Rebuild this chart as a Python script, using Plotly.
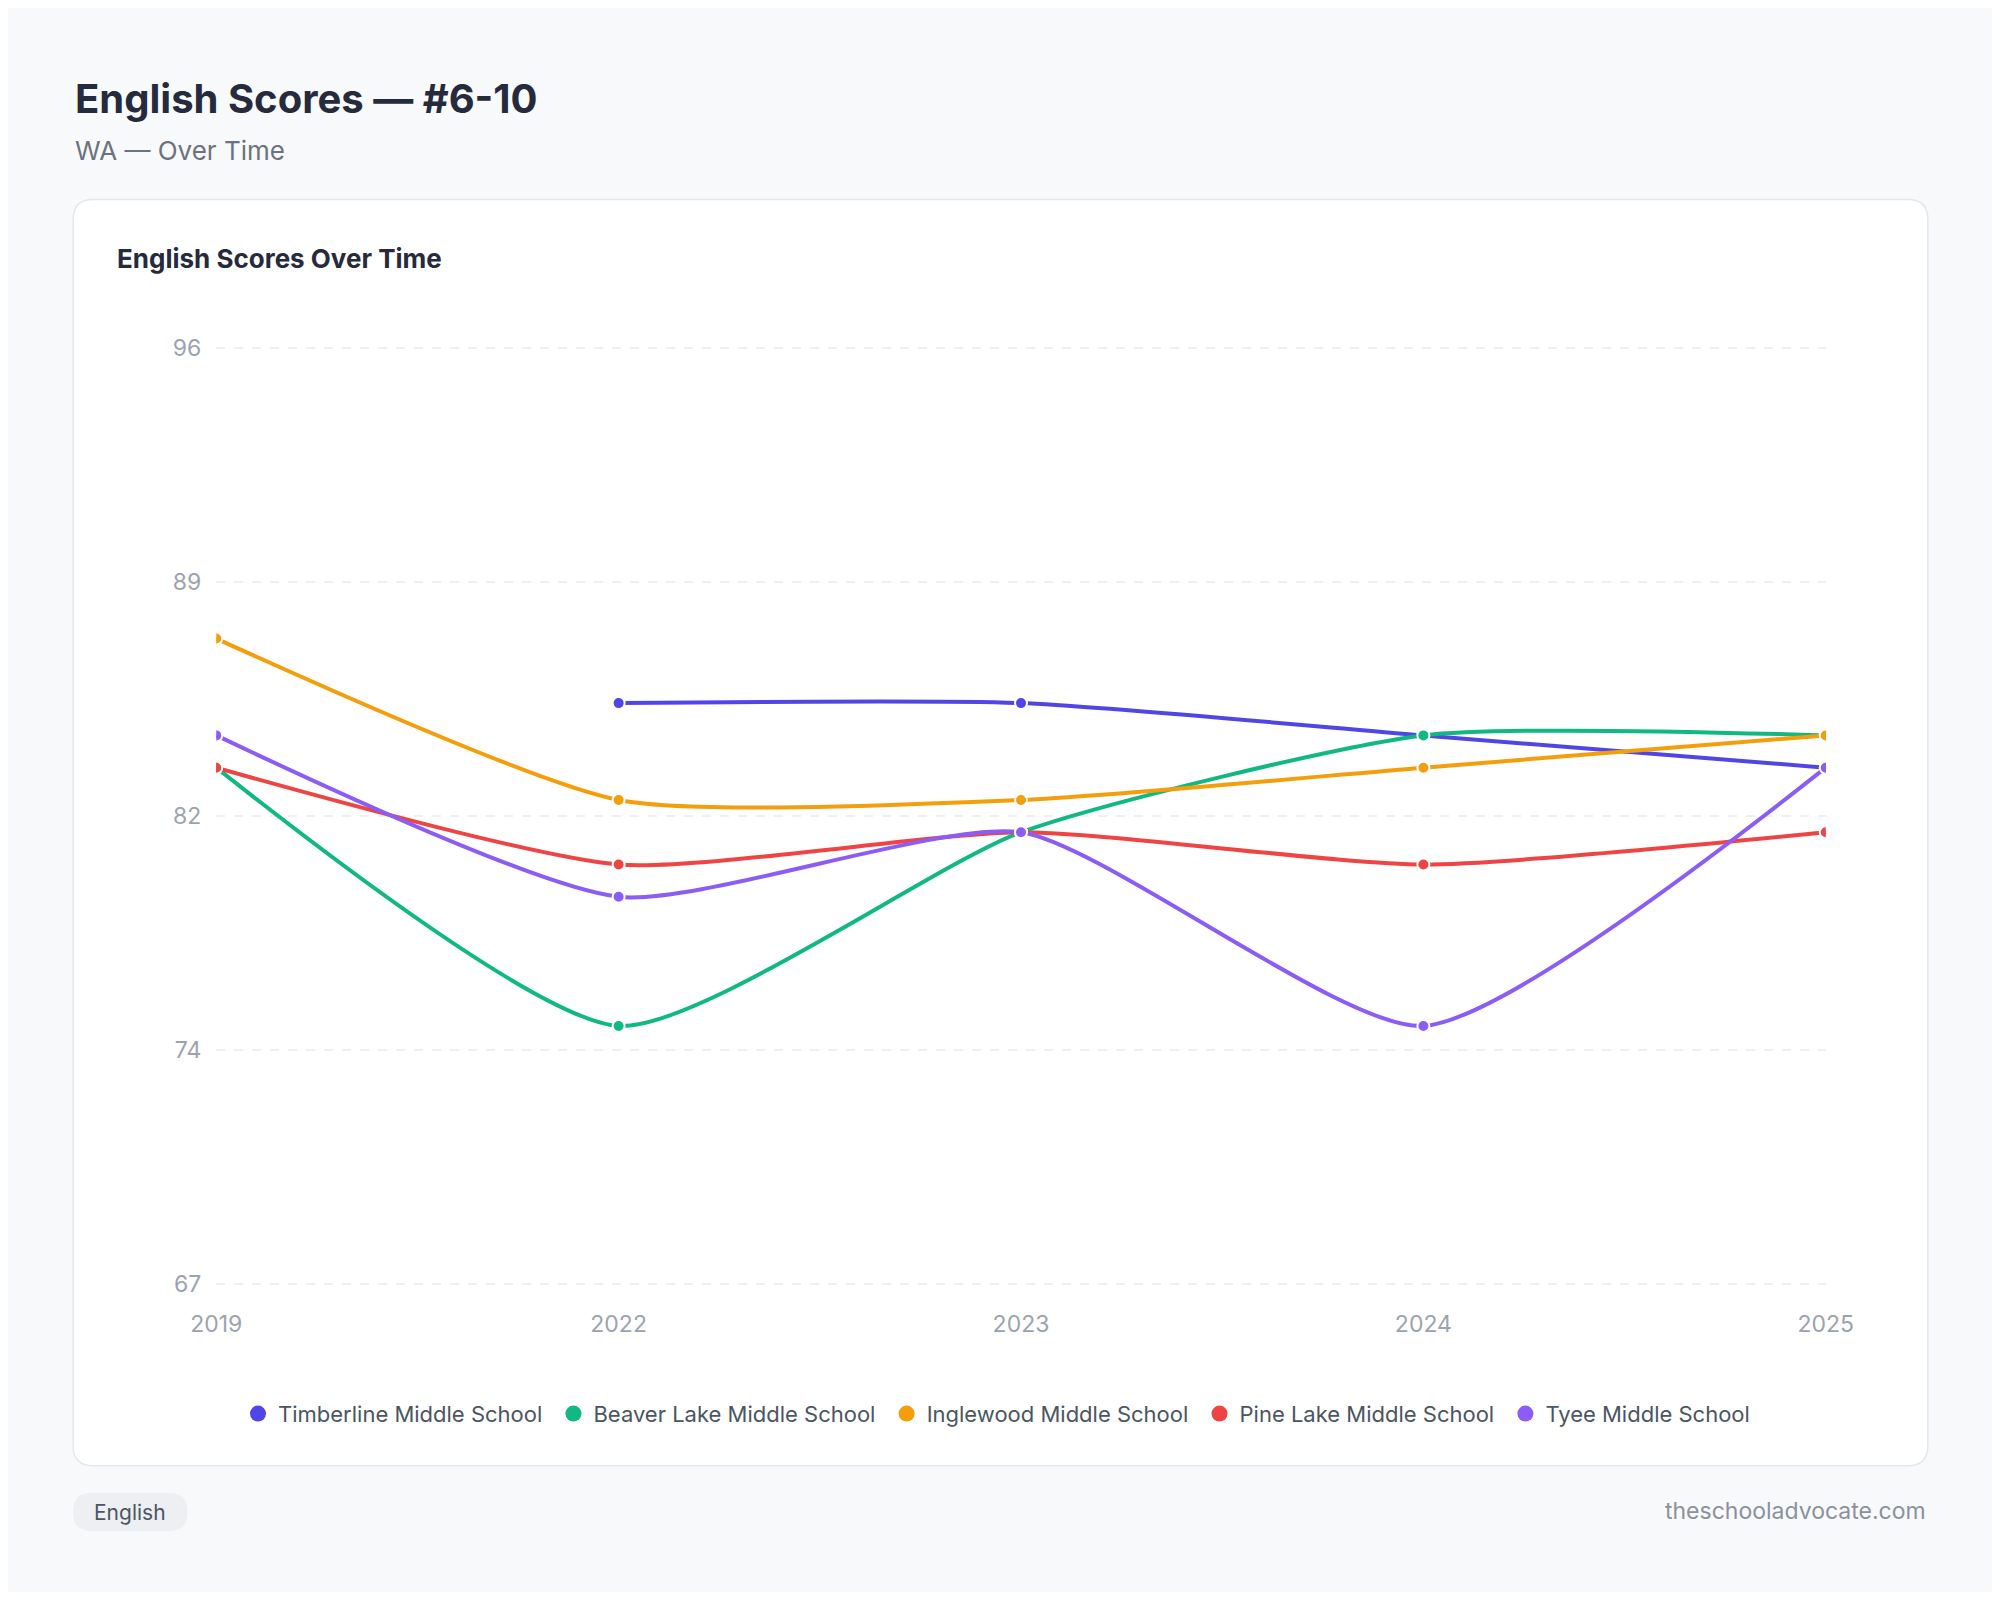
import plotly.graph_objects as go

years = ["2019", "2022", "2023", "2024", "2025"]
series_names = ["Timberline Middle School", "Beaver Lake Middle School", "Inglewood Middle School",
                "Pine Lake Middle School", "Tyee Middle School"]
timberline = [None, 85, 85, 84, 83]
beaver_lake = [83, 75, 81, 84, 84]
inglewood = [87, 82, 82, 83, 84]
pine_lake = [83, 80, 81, 80, 81]
tyee = [84, 79, 81, 75, 83]
colors = ["#4f46e5", "#10b981", "#f59e0b", "#ef4444", "#8b5cf6"]
tick_vals = [67, 74.25, 81.5, 88.75, 96]
tick_text = ["67", "74", "82", "89", "96"]

fig = go.Figure()
for name, vals, c in zip(series_names, [timberline, beaver_lake, inglewood, pine_lake, tyee], colors):
    fig.add_trace(go.Scatter(x=years, y=vals, name=name, mode="lines+markers", showlegend=False,
                             line=dict(color=c, width=4, shape="spline", smoothing=0.6),
                             marker=dict(size=12, color=c, line=dict(color="white", width=2)),
                             connectgaps=False))
for name, c in zip(series_names, colors):
    fig.add_trace(go.Scatter(x=[None], y=[None], name=name + " ", mode="markers",
                             marker=dict(size=16, color=c)))

W, H = 1984, 1584
def px(x): return (x * 1.009 - 8) / 2000
def py(y): return 1 - (y * 1.012 - 8) / 1600

def rounded(x0, x1, y0, y1, rx, ry):
    return (f"M {x0+rx},{y0} L {x1-rx},{y0} Q {x1},{y0} {x1},{y0-ry} L {x1},{y1+ry} Q {x1},{y1} {x1-rx},{y1} "
            f"L {x0+rx},{y1} Q {x0},{y1} {x0},{y1+ry} L {x0},{y0-ry} Q {x0},{y0} {x0+rx},{y0} Z")

fig.add_shape(type="path", xref="paper", yref="paper",
              path=rounded(px(73), px(1926), py(199), py(1463), 20 / W, 20 / H),
              fillcolor="white", line=dict(color="#e5e7eb", width=1.5), layer="below")
fig.add_shape(type="path", xref="paper", yref="paper",
              path=rounded(px(73), px(187), py(1490), py(1528), 18 / W, 18 / H),
              fillcolor="#eeeff2", line=dict(width=0), layer="below")

font = "Inter, Noto Sans, sans-serif"
anns = [
    dict(x=px(73), y=py(98), text="<b>English Scores — #6-10</b>", size=40, color="#262a3d"),
    dict(x=px(73), y=py(150), text="WA — Over Time", size=26, color="#6b7280"),
    dict(x=px(115), y=py(258), text="<b>English Scores Over Time</b>", size=26, color="#262a3d"),
    dict(x=px(92), y=py(1510), text="English", size=21, color="#4b5563"),
]
for a in anns:
    fig.add_annotation(xref="paper", yref="paper", x=a["x"], y=a["y"], text=a["text"], showarrow=False,
                       xanchor="left", yanchor="middle", font=dict(family=font, size=a["size"], color=a["color"]))
fig.add_annotation(xref="paper", yref="paper", x=px(1926), y=py(1508), text="theschooladvocate.com",
                   showarrow=False, xanchor="right", yanchor="middle", font=dict(family=font, size=23, color="#8b90a0"))

fig.update_layout(
    width=W, height=H, autosize=False, margin=dict(l=0, r=0, t=0, b=0, autoexpand=False),
    paper_bgcolor="#f8f9fb", plot_bgcolor="white",
    font=dict(family=font, color="#9ca3af"),
    xaxis=dict(domain=[px(216), px(1824)], range=[0, 4], type="category", showgrid=False, zeroline=False,
               tickfont=dict(size=23, color="#9ca3af"), ticks="", showline=False, ticklabelstandoff=22,
               automargin=False),
    yaxis=dict(domain=[py(1284), py(345)], range=[66.93, 96.07], tickvals=tick_vals, ticktext=tick_text,
               showgrid=True, gridcolor="#eeeff2", griddash="dash", gridwidth=1.5, zeroline=False,
               tickfont=dict(size=23, color="#9ca3af"), ticklabelstandoff=14, automargin=False),
    legend=dict(orientation="h", x=0.5, xanchor="center", y=py(1411), yanchor="middle",
                font=dict(size=22, color="#4b5563"), itemwidth=30, bgcolor="rgba(0,0,0,0)"),
)
fig.write_html("out.html")
